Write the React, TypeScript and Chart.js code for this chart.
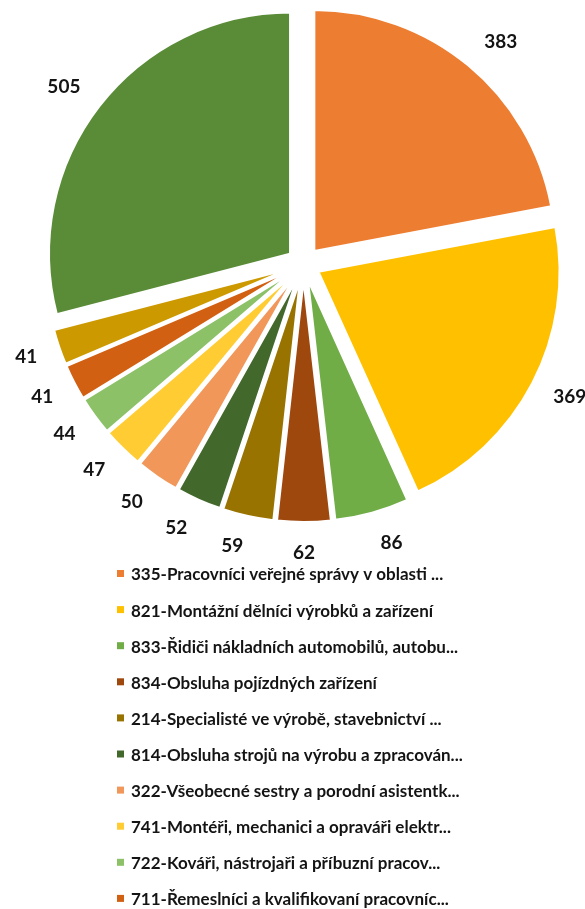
import { useEffect, useRef } from "react";
import { Chart, registerables } from "chart.js";

Chart.register(...registerables);

// Occupation groups (CZ-ISCO) and job counts, clockwise from 12 o'clock
const categories = [
  "335-Pracovníci veřejné správy v oblasti ...",
  "821-Montážní dělníci výrobků a zařízení",
  "833-Řidiči nákladních automobilů, autobu...",
  "834-Obsluha pojízdných zařízení",
  "214-Specialisté ve výrobě, stavebnictví ...",
  "814-Obsluha strojů na výrobu a zpracován...",
  "322-Všeobecné sestry a porodní asistentk...",
  "741-Montéři, mechanici a opraváři elektr...",
  "722-Kováři, nástrojaři a příbuzní pracov...",
  "711-Řemeslníci a kvalifikovaní pracovníc...",
  "723-Mechanici a opraváři motorových vozidel",
  "Ostatní",
];

const counts = [383, 369, 86, 62, 59, 52, 50, 47, 44, 41, 41, 505];

const sliceColors = [
  "#ED7D31",
  "#FFC000",
  "#70AD47",
  "#9E480E",
  "#997300",
  "#43682B",
  "#F1975A",
  "#FFCD33",
  "#8CC168",
  "#D26012",
  "#CC9A00",
  "#5A8C38",
];

const WIDTH = 585;
const HEIGHT = 909;
const PIE_RADIUS = 241;
const EXPLODE = 17;
const LABEL_GAP = 19;
const LABEL_FONT = "bold 19px Lato";
const LEGEND_FONT = "bold 17px Lato";
const TEXT_COLOR = "#141414";
const LEGEND_X = 117;
const LEGEND_TOP = 575;
const LEGEND_STEP = 36.1;

const clamp = (v: number, lo: number, hi: number) => Math.min(hi, Math.max(lo, v));

// Pulls every slice outward along its bisector (exploded pie)
const explodePlugin = {
  id: "explodedSlices",
  beforeDatasetDraw(chart: any, args: any) {
    const { ctx } = chart;
    args.meta.data.forEach((arc: any) => {
      const { startAngle, endAngle } = arc.getProps(["startAngle", "endAngle"], true);
      const mid = (startAngle + endAngle) / 2;
      ctx.save();
      ctx.translate(Math.cos(mid) * EXPLODE, Math.sin(mid) * EXPLODE);
      arc.draw(ctx);
      ctx.restore();
    });
    return false;
  },
};

// Value labels just outside each slice
const valueLabelPlugin = {
  id: "valueLabels",
  afterDraw(chart: any) {
    const { ctx } = chart;
    const meta = chart.getDatasetMeta(0);
    ctx.save();
    ctx.font = LABEL_FONT;
    ctx.fillStyle = TEXT_COLOR;
    ctx.textAlign = "center";
    ctx.textBaseline = "middle";
    meta.data.forEach((arc: any, i: number) => {
      const { x, y, startAngle, endAngle, outerRadius } = arc.getProps(
        ["x", "y", "startAngle", "endAngle", "outerRadius"],
        true
      );
      const mid = (startAngle + endAngle) / 2;
      const c = Math.cos(mid);
      const s = Math.sin(mid);
      const r = outerRadius + EXPLODE + LABEL_GAP;
      const text = String(counts[i]);
      const halfW = ctx.measureText(text).width / 2 + 4;
      const px = x + c * r + halfW * clamp(3.6 * c, -1, 1);
      const py = y + s * r + 12 * s;
      ctx.fillText(text, px, py);
    });
    ctx.restore();
  },
};

// Vertical legend list under the pie
const legendPlugin = {
  id: "listLegend",
  afterDraw(chart: any) {
    const { ctx } = chart;
    ctx.save();
    ctx.font = LEGEND_FONT;
    ctx.textAlign = "left";
    ctx.textBaseline = "middle";
    categories.forEach((name, i) => {
      const cy = LEGEND_TOP + i * LEGEND_STEP;
      ctx.fillStyle = sliceColors[i];
      ctx.fillRect(LEGEND_X, cy - 5, 7, 7);
      ctx.fillStyle = TEXT_COLOR;
      ctx.fillText(name, LEGEND_X + 14, cy);
    });
    ctx.restore();
  },
};

export default function App() {
  const canvasRef = useRef<HTMLCanvasElement | null>(null);

  useEffect(() => {
    const canvas = canvasRef.current;
    if (!canvas) return;
    const chart = new Chart(canvas, {
      type: "pie",
      data: {
        labels: categories,
        datasets: [
          {
            data: counts,
            backgroundColor: sliceColors,
            borderColor: "#ffffff",
            borderWidth: 2,
          },
        ],
      },
      options: {
        responsive: false,
        animation: false,
        radius: PIE_RADIUS,
        layout: { padding: { left: 22, right: 0, top: 0, bottom: 381 } },
        plugins: {
          legend: { display: false },
          tooltip: { enabled: false },
        },
      },
      plugins: [explodePlugin, valueLabelPlugin, legendPlugin],
    });
    return () => chart.destroy();
  }, []);

  return (
    <div style={{ position: "fixed", left: 0, top: 0, width: WIDTH, height: HEIGHT, background: "#ffffff" }}>
      <canvas ref={canvasRef} width={WIDTH} height={HEIGHT} style={{ display: "block" }} />
    </div>
  );
}
